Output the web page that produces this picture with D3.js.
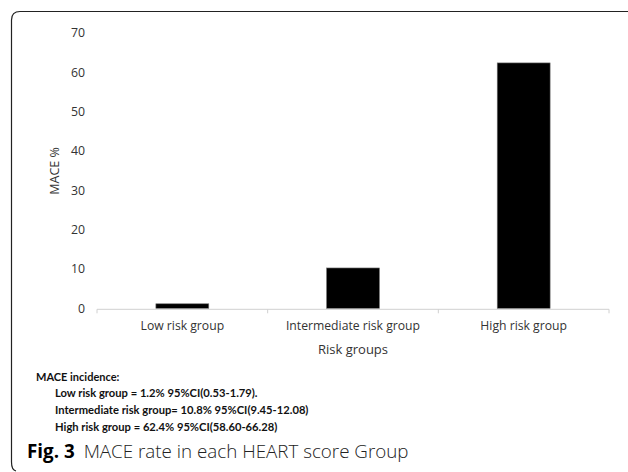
<!DOCTYPE html>
<html>
<head>
<meta charset="utf-8">
<script src="https://cdn.jsdelivr.net/npm/d3@7"></script>
<style>
  body { margin: 0; background: #fff; }
  svg { display: block; }
</style>
</head>
<body>
<svg id="chart" width="628" height="472"></svg>
<script>
// data
const categories = ["Low risk group", "Intermediate risk group", "High risk group"];
const maceValues = [1.2, 10.3, 62.4];
const yTicks = [0, 10, 20, 30, 40, 50, 60, 70];
const noteTitle = "MACE incidence:";
const noteLines = [
  "Low risk group = 1.2% 95%CI(0.53-1.79).",
  "Intermediate risk group= 10.8% 95%CI(9.45-12.08)",
  "High risk group = 62.4% 95%CI(58.60-66.28)"
];

const svg = d3.select("#chart");

// frame (top + left with rounded corners, running off the right edge)
svg.append("path")
  .attr("d", "M 640 11.5 L 20 11.5 Q 11.5 11.5 11.5 20 L 11.5 462 Q 11.5 470 16 471")
  .attr("fill", "none")
  .attr("stroke", "#222")
  .attr("stroke-width", 1.2);

const plotL = 97, plotR = 609, plotT = 33, plotB = 308.5;

const x = d3.scaleBand().domain(categories).range([plotL, plotR])
  .paddingInner(0.69).paddingOuter(0.345);
const xEdge = d3.scaleBand().domain(categories).range([plotL, plotR]).padding(0);
const y = d3.scaleLinear().domain([0, 70]).range([plotB, plotT]);

// y tick labels
svg.append("g").selectAll("text")
  .data(yTicks)
  .join("text")
  .attr("x", 85)
  .attr("y", d => y(d))
  .attr("dy", "0.35em")
  .attr("text-anchor", "end")
  .attr("font-family", "Open Sans")
  .attr("font-size", 12.3)
  .attr("fill", "#333")
  .text(d => d);

// bars
svg.append("g").selectAll("rect")
  .data(maceValues)
  .join("rect")
  .attr("x", (d, i) => x(categories[i]))
  .attr("width", x.bandwidth())
  .attr("y", d => y(d))
  .attr("height", d => y(0) - y(d))
  .attr("fill", "#000")
  .attr("stroke", "#777")
  .attr("stroke-width", 0.6);

// x axis line and boundary ticks
const ax = svg.append("g").attr("stroke", "#d0d0d0").attr("stroke-width", 1);
ax.append("line").attr("x1", plotL).attr("x2", plotR).attr("y1", plotB + 0.8).attr("y2", plotB + 0.8);
const edges = categories.map(c => xEdge(c)).concat([plotR]);
ax.selectAll("line.tk").data(edges).join("line")
  .attr("class", "tk")
  .attr("x1", d => d).attr("x2", d => d)
  .attr("y1", plotB + 0.8).attr("y2", plotB + 4.8);

// category labels
svg.append("g").selectAll("text")
  .data(categories)
  .join("text")
  .attr("x", d => x(d) + x.bandwidth() / 2)
  .attr("y", 326)
  .attr("dy", "0.35em")
  .attr("text-anchor", "middle")
  .attr("font-family", "Open Sans")
  .attr("font-size", 12.2)
  .attr("fill", "#333")
  .text(d => d);

// axis titles
svg.append("text")
  .attr("x", xEdge(categories[1]) + xEdge.bandwidth() / 2)
  .attr("y", 349)
  .attr("dy", "0.35em")
  .attr("text-anchor", "middle")
  .attr("font-family", "Open Sans")
  .attr("font-size", 13)
  .attr("fill", "#333")
  .text("Risk groups");

svg.append("text")
  .attr("transform", "translate(55,171) rotate(-90)")
  .attr("dy", "0.35em")
  .attr("text-anchor", "middle")
  .attr("font-family", "Open Sans")
  .attr("font-size", 12.5)
  .attr("fill", "#333")
  .text("MACE %");

// incidence note
svg.append("text")
  .attr("x", 36).attr("y", 377)
  .attr("dy", "0.35em")
  .attr("font-family", "Lato")
  .attr("font-weight", "bold")
  .attr("font-size", 11)
  .attr("fill", "#111")
  .text(noteTitle);

svg.append("g").selectAll("text")
  .data(noteLines)
  .join("text")
  .attr("x", 55)
  .attr("y", (d, i) => 393.5 + i * 16.8)
  .attr("dy", "0.35em")
  .attr("font-family", "Lato")
  .attr("font-weight", "bold")
  .attr("font-size", 11.2)
  .attr("fill", "#111")
  .text(d => d);

// figure caption
const cap = svg.append("text")
  .attr("x", 27).attr("y", 458)
  .attr("font-family", "Open Sans")
  .attr("font-size", 18.8)
  .attr("fill", "#222");
cap.append("tspan").attr("font-weight", "bold").attr("fill", "#000").text("Fig. 3");
cap.append("tspan").attr("dx", 9).attr("font-weight", 300).text("MACE rate in each HEART score Group");
</script>
</body>
</html>
